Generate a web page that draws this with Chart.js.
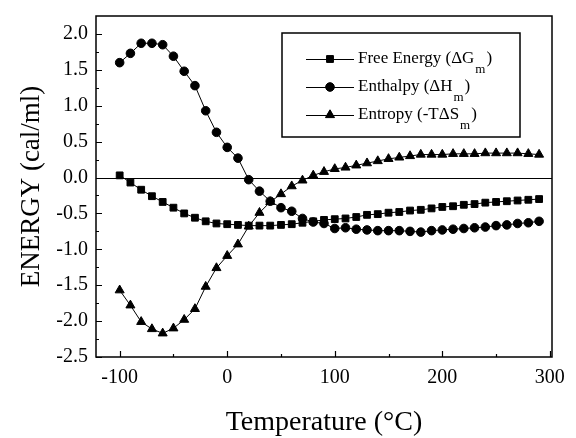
<!DOCTYPE html>
<html>
<head>
<meta charset="utf-8">
<script src="https://cdn.jsdelivr.net/npm/chart.js@4.4.1/dist/chart.umd.min.js"></script>
<style>
  html, body { margin: 0; padding: 0; background: #fff; }
  #wrap { width: 576px; height: 438px; }
</style>
</head>
<body>
<div id="wrap"><canvas id="energyChart" width="576" height="438"></canvas></div>
<script>
const temps = [
  -100, -90, -80, -70, -60, -50, -40, -30, -20, -10,
  0, 10, 20, 30, 40, 50, 60, 70, 80, 90,
  100, 110, 120, 130, 140, 150, 160, 170, 180, 190,
  200, 210, 220, 230, 240, 250, 260, 270, 280, 290,
];

const freeEnergy = [
  0.03, -0.07, -0.17, -0.26, -0.34, -0.42, -0.50, -0.56, -0.61, -0.64,
  -0.65, -0.66, -0.67, -0.67, -0.67, -0.66, -0.65, -0.63, -0.61, -0.59,
  -0.58, -0.57, -0.55, -0.52, -0.51, -0.49, -0.48, -0.46, -0.45, -0.43,
  -0.41, -0.40, -0.38, -0.37, -0.35, -0.34, -0.33, -0.32, -0.31, -0.30,
];

const enthalpy = [
  1.60, 1.73, 1.87, 1.87, 1.85, 1.69, 1.48, 1.28, 0.93, 0.63,
  0.42, 0.27, -0.03, -0.19, -0.33, -0.42, -0.47, -0.57, -0.62, -0.64,
  -0.71, -0.70, -0.72, -0.73, -0.74, -0.74, -0.74, -0.75, -0.76, -0.74,
  -0.73, -0.72, -0.71, -0.70, -0.69, -0.67, -0.66, -0.64, -0.63, -0.61,
];

const entropy = [
  -1.57, -1.78, -2.01, -2.11, -2.17, -2.10, -1.98, -1.83, -1.52, -1.26,
  -1.09, -0.93, -0.68, -0.49, -0.34, -0.23, -0.12, -0.04, 0.03, 0.08,
  0.12, 0.14, 0.17, 0.20, 0.23, 0.26, 0.28, 0.30, 0.32, 0.32,
  0.32, 0.33, 0.33, 0.33, 0.34, 0.34, 0.34, 0.34, 0.33, 0.32,
];

const xTicks = [-100, 0, 100, 200, 300];
const xMinorTicks = [-50, 50, 150, 250];
const yTicks = [-2.5, -2.0, -1.5, -1.0, -0.5, 0.0, 0.5, 1.0, 1.5, 2.0];
const yMinorTicks = [-2.25, -1.75, -1.25, -0.75, -0.25, 0.25, 0.75, 1.25, 1.75];

// legend text: [main, subscript, closing]
const legendLabels = [
  ["Free Energy (ΔG", "m", ")"],
  ["Enthalpy (ΔH", "m", ")"],
  ["Entropy (-TΔS", "m", ")"],
];

const serif = "'Liberation Serif', 'Times New Roman', serif";

const toPoints = (ys) => temps.map((t, i) => ({ x: t, y: ys[i] }));

const framePlugin = {
  id: "frame",
  beforeDatasetsDraw(chart) {
    const { ctx, chartArea: a, scales: { y } } = chart;
    const y0 = Math.round(y.getPixelForValue(0)) + 0.5;
    ctx.save();
    ctx.strokeStyle = "#000";
    ctx.lineWidth = 1;
    ctx.beginPath();
    ctx.moveTo(a.left, y0);
    ctx.lineTo(a.right, y0);
    ctx.stroke();
    ctx.restore();
  },
  afterDatasetsDraw(chart) {
    const { ctx, chartArea: a, scales: { x, y } } = chart;
    ctx.save();
    ctx.strokeStyle = "#000";
    ctx.lineWidth = 1.5;
    ctx.strokeRect(a.left, a.top, a.right - a.left, a.bottom - a.top);

    ctx.lineWidth = 1.2;
    ctx.beginPath();
    xTicks.forEach((v) => {
      const px = Math.round(x.getPixelForValue(v)) + 0.5;
      ctx.moveTo(px, a.bottom);
      ctx.lineTo(px, a.bottom - 6);
    });
    xMinorTicks.forEach((v) => {
      const px = Math.round(x.getPixelForValue(v)) + 0.5;
      ctx.moveTo(px, a.bottom);
      ctx.lineTo(px, a.bottom - 3);
    });
    yTicks.forEach((v) => {
      const py = Math.round(y.getPixelForValue(v)) + 0.5;
      ctx.moveTo(a.left, py);
      ctx.lineTo(a.left + 6, py);
    });
    yMinorTicks.forEach((v) => {
      const py = Math.round(y.getPixelForValue(v)) + 0.5;
      ctx.moveTo(a.left, py);
      ctx.lineTo(a.left + 3, py);
    });
    ctx.stroke();
    ctx.restore();
  },
  afterDraw(chart) {
    const { ctx } = chart;
    const box = { left: 282, top: 33, right: 520, bottom: 137 };
    const rows = [59, 87, 115];
    ctx.save();
    ctx.strokeStyle = "#000";
    ctx.lineWidth = 1.5;
    ctx.strokeRect(box.left, box.top, box.right - box.left, box.bottom - box.top);

    chart.data.datasets.forEach((ds, i) => {
      const ry = rows[i];
      ctx.lineWidth = 1;
      ctx.beginPath();
      ctx.moveTo(306, ry + 0.5);
      ctx.lineTo(354, ry + 0.5);
      ctx.stroke();
      Chart.helpers.drawPoint(ctx, {
        pointStyle: ds.pointStyle,
        radius: ds.pointRadius,
        borderWidth: 1,
        rotation: 0,
      }, 330, ry);
      ctx.fillStyle = "#000";
      ctx.fill();

      const [main, sub, close] = legendLabels[i];
      ctx.font = "17px " + serif;
      ctx.textBaseline = "middle";
      ctx.textAlign = "left";
      ctx.fillText(main, 358, ry);
      let tx = 358 + ctx.measureText(main).width + 1;
      ctx.font = "13px " + serif;
      ctx.fillText(sub, tx, ry + 11);
      tx += ctx.measureText(sub).width + 1;
      ctx.font = "17px " + serif;
      ctx.fillText(close, tx, ry);
    });
    ctx.restore();
  },
};

const seriesStyle = (label, data, pointStyle, radius) => ({
  label,
  data: toPoints(data),
  borderColor: "#000",
  backgroundColor: "#000",
  borderWidth: 1,
  pointStyle,
  pointRadius: radius,
  pointBorderWidth: 1,
  pointBackgroundColor: "#000",
  pointBorderColor: "#000",
  tension: 0,
});

new Chart(document.getElementById("energyChart"), {
  type: "line",
  data: {
    datasets: [
      seriesStyle("Free Energy", freeEnergy, "rect", 4.8),
      seriesStyle("Enthalpy", enthalpy, "circle", 4.3),
      seriesStyle("Entropy", entropy, "triangle", 5.2),
    ],
  },
  options: {
    responsive: false,
    animation: false,
    layout: { padding: { top: 16, right: 24, left: 0, bottom: 0 } },
    plugins: {
      legend: { display: false },
      tooltip: { enabled: false },
    },
    scales: {
      x: {
        type: "linear",
        min: -122,
        max: 302,
        afterBuildTicks: (s) => {
          s.ticks = xTicks.map((v) => ({ value: v }));
        },
        afterFit: (s) => {
          s.height = 81;
          s.paddingLeft = 0;
          s.paddingRight = 0;
        },
        grid: { display: false, drawTicks: false },
        border: { display: false },
        ticks: {
          color: "#000",
          padding: 9,
          maxRotation: 0,
          font: { family: serif, size: 20 },
          callback: (v) => String(v),
        },
        title: {
          display: true,
          text: "Temperature (°C)",
          color: "#000",
          font: { family: serif, size: 28, lineHeight: 1.0 },
          padding: { top: 0, bottom: 1 },
        },
      },
      y: {
        min: -2.5,
        max: 2.25,
        afterBuildTicks: (s) => {
          s.ticks = yTicks.map((v) => ({ value: v }));
        },
        afterFit: (s) => {
          s.width = 96;
          s.paddingTop = 0;
          s.paddingBottom = 0;
        },
        grid: { display: false, drawTicks: false },
        border: { display: false },
        ticks: {
          color: "#000",
          padding: 8,
          font: { family: serif, size: 20 },
          callback: (v) => v.toFixed(1),
        },
        title: {
          display: true,
          text: "ENERGY (cal/ml)",
          color: "#000",
          font: { family: serif, size: 27 },
          padding: { top: 16, bottom: 0 },
        },
      },
    },
  },
  plugins: [framePlugin],
});
</script>
</body>
</html>
